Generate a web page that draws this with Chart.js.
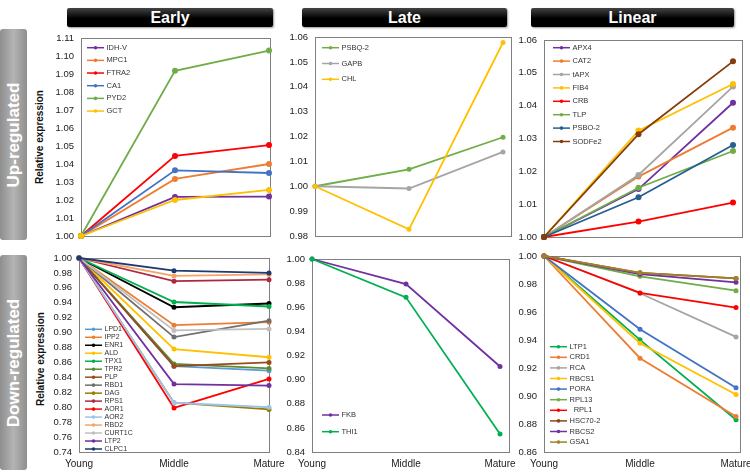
<!DOCTYPE html>
<html>
<head>
<meta charset="utf-8">
<script src="https://cdn.jsdelivr.net/npm/chart.js@4.4.1/dist/chart.umd.min.js"></script>
<style>
  body { margin: 0; background: #fff; width: 750px; height: 472px; position: relative; overflow: hidden;
         font-family: "Liberation Sans", Arial, sans-serif; }
  .hdr { position: absolute; top: 8px; height: 19px; line-height: 19px; text-align: center;
         background: linear-gradient(#444, #000 55%); color: #fff; font-weight: bold; font-size: 16px;
         border-radius: 2px; box-shadow: 1px 1px 2px #999; }
  .side { position: absolute; left: 0; width: 27px; border-radius: 3px;
          background: linear-gradient(to right, #8e8e8e, #b4b4b4 50%, #8e8e8e); }
  .side span, .ylab span { position: absolute; left: 50%; top: 50%; white-space: nowrap;
          transform: translate(-50%, -50%) rotate(-90deg); }
  .side span { color: #fff; font-weight: bold; font-size: 17px; }
  .ylab { position: absolute; width: 0; height: 0; }
  .ylab span { font-weight: bold; font-size: 10px; color: #111; }
  canvas { position: absolute; }
</style>
</head>
<body>
<div class="hdr" style="left:67px;width:206px">Early</div>
<div class="hdr" style="left:302px;width:205px">Late</div>
<div class="hdr" style="left:531px;width:203px">Linear</div>
<div class="side" style="top:29px;height:211px"><span>Up-regulated</span></div>
<div class="side" style="top:255px;height:215px"><span>Down-regulated</span></div>
<div class="ylab" style="left:39px;top:137px"><span>Relative expression</span></div>
<div class="ylab" style="left:40px;top:359px"><span>Relative expression</span></div>

<script>
Chart.defaults.font.family = '"Liberation Sans", Arial, sans-serif';

const stages = ['Young', 'Middle', 'Mature'];

// Early, up-regulated
const earlyUpGenes = ['IDH-V', 'MPC1', 'FTRA2', 'CA1', 'PYD2', 'GCT'];
const earlyUpColors = ['#7030A0', '#ED7D31', '#FF0000', '#4472C4', '#70AD47', '#FFC000'];
const earlyUpValues = [
  [1, 1.0217, 1.0219],
  [1, 1.0317, 1.0400],
  [1, 1.0445, 1.0505],
  [1, 1.0365, 1.0350],
  [1, 1.0918, 1.1030],
  [1, 1.0200, 1.0256]
];
const earlyUpTicks = [1.00, 1.01, 1.02, 1.03, 1.04, 1.05, 1.06, 1.07, 1.08, 1.09, 1.10, 1.11];

// Late, up-regulated
const lateUpGenes = ['PSBQ-2', 'GAPB', 'CHL'];
const lateUpColors = ['#70AD47', '#A5A5A5', '#FFC000'];
const lateUpValues = [
  [1, 1.0068, 1.0197],
  [1, 0.9991, 1.0138],
  [1, 0.9827, 1.0578]
];
const lateUpTicks = [0.98, 0.99, 1.00, 1.01, 1.02, 1.03, 1.04, 1.05, 1.06];

// Linear, up-regulated
const linearUpGenes = ['APX4', 'CAT2', 'tAPX', 'FIB4', 'CRB', 'TLP', 'PSBO-2', 'SODFe2'];
const linearUpColors = ['#7030A0', '#ED7D31', '#A5A5A5', '#FFC000', '#FF0000', '#70AD47', '#255E91', '#843C0C'];
const linearUpValues = [
  [1, 1.0146, 1.0409],
  [1, 1.0184, 1.0333],
  [1, 1.0189, 1.0458],
  [1, 1.0324, 1.0466],
  [1, 1.0047, 1.0105],
  [1, 1.0150, 1.0262],
  [1, 1.0121, 1.0280],
  [1, 1.0313, 1.0535]
];
const linearUpTicks = [1.00, 1.01, 1.02, 1.03, 1.04, 1.05, 1.06];

// Early, down-regulated
const earlyDownGenes = ['LPD1', 'IPP2', 'ENR1', 'ALD', 'TPX1', 'TPR2', 'PLP', 'RBD1',
  'DAG', 'RPS1', 'AOR1', 'AOR2', 'RBD2', 'CURT1C', 'LTP2', 'CLPC1'];
const earlyDownColors = ['#5B9BD5', '#ED7D31', '#000000', '#FFC000', '#00B050', '#5A8A32', '#9C4A1A', '#6F6F6F',
  '#9C7A00', '#B0283F', '#FF0000', '#9DC3E6', '#F4A46A', '#BFBFBF', '#7030A0', '#1F3A70'];
const earlyDownValues = [
  [1, 0.855, 0.849],
  [1, 0.910, 0.914],
  [1, 0.934, 0.939],
  [1, 0.878, 0.867],
  [1, 0.941, 0.935],
  [1, 0.858, 0.852],
  [1, 0.855, 0.860],
  [1, 0.894, 0.916],
  [1, 0.806, 0.797],
  [1, 0.969, 0.971],
  [1, 0.799, 0.838],
  [1, 0.806, 0.800],
  [1, 0.976, 0.978],
  [1, 0.903, 0.905],
  [1, 0.831, 0.829],
  [1, 0.983, 0.980]
];
const earlyDownTicks = [0.74, 0.76, 0.78, 0.80, 0.82, 0.84, 0.86, 0.88, 0.90, 0.92, 0.94, 0.96, 0.98, 1.00];

// Late, down-regulated
const lateDownGenes = ['FKB', 'THI1'];
const lateDownColors = ['#7030A0', '#00B050'];
const lateDownValues = [
  [1, 0.9792, 0.9109],
  [1, 0.9682, 0.8550]
];
const lateDownTicks = [0.84, 0.86, 0.88, 0.90, 0.92, 0.94, 0.96, 0.98, 1.00];

// Linear, down-regulated
const linearDownGenes = ['LTP1', 'CRD1', 'RCA', 'RBCS1', 'PORA', 'RPL13', '  RPL1', 'HSC70-2', 'RBCS2', 'GSA1'];
const linearDownColors = ['#00B050', '#ED7D31', '#A5A5A5', '#FFC000', '#4472C4', '#70AD47', '#FF0000', '#8B4513', '#7030A0', '#A0822A'];
const linearDownValues = [
  [1, 0.9401, 0.8830],
  [1, 0.9270, 0.8854],
  [1, 0.9734, 0.9422],
  [1, 0.9377, 0.9011],
  [1, 0.9477, 0.9059],
  [1, 0.9855, 0.9752],
  [1, 0.9736, 0.9632],
  [1, 0.9880, 0.9840],
  [1, 0.9870, 0.9812],
  [1, 0.9880, 0.9840]
];
const linearDownTicks = [0.86, 0.88, 0.90, 0.92, 0.94, 0.96, 0.98, 1.00];

// frame round the plot area (slightly wider than the data on some panels)
const boxPlugin = {
  id: 'box',
  beforeDatasetsDraw(chart, args, o) {
    const a = chart.chartArea, ctx = chart.ctx;
    ctx.save();
    ctx.strokeStyle = '#808080';
    ctx.lineWidth = 1;
    ctx.strokeRect(Math.round(a.left) + 0.5, Math.round(a.top) + 0.5,
      Math.round(a.right - a.left + o.extra), Math.round(a.bottom - a.top));
    ctx.restore();
  }
};

// legend drawn inside the plot, in the original gene order
const legendPlugin = {
  id: 'inLegend',
  afterDatasetsDraw(chart, args, o) {
    const ctx = chart.ctx;
    const items = chart.data.datasets.slice().reverse();
    ctx.save();
    ctx.font = o.font + 'px "Liberation Sans", Arial, sans-serif';
    ctx.textBaseline = 'middle';
    items.forEach((ds, i) => {
      const y = o.y + i * o.step;
      ctx.strokeStyle = ds.borderColor;
      ctx.lineWidth = 1.5;
      ctx.beginPath(); ctx.moveTo(o.x, y); ctx.lineTo(o.x + o.len, y); ctx.stroke();
      ctx.fillStyle = ds.borderColor;
      ctx.beginPath(); ctx.arc(o.x + o.len / 2, y, 1.8, 0, Math.PI * 2); ctx.fill();
      ctx.fillStyle = '#333';
      ctx.fillText(ds.label, o.x + o.len + 2.5, y);
    });
    ctx.restore();
  }
};

function makePanel(cfg) {
  const yW = 48, padT = 14, padR = 28;
  const botH = cfg.xLabels ? 20 : 14;
  const cl = cfg.l - yW, ct = cfg.t - padT;
  const w = cfg.r - cfg.l + yW + padR, h = cfg.b - cfg.t + padT + botH;
  const cv = document.createElement('canvas');
  cv.width = w; cv.height = h;
  cv.style.left = cl + 'px'; cv.style.top = ct + 'px';
  cv.style.width = w + 'px'; cv.style.height = h + 'px';
  document.body.appendChild(cv);

  new Chart(cv, {
    type: 'line',
    data: {
      labels: stages,
      // first gene drawn last, so it sits on top
      datasets: cfg.genes.map((g, i) => ({
        label: g,
        data: cfg.values[i],
        borderColor: cfg.colors[i],
        backgroundColor: cfg.colors[i],
        borderWidth: 1.8,
        pointRadius: cfg.pr,
        pointBorderWidth: 0,
        tension: 0,
        clip: false
      })).reverse()
    },
    options: {
      responsive: false,
      animation: false,
      devicePixelRatio: 1,
      layout: { padding: { top: padT, right: padR, left: 0, bottom: 0 } },
      plugins: {
        legend: { display: false },
        tooltip: { enabled: false },
        box: { extra: cfg.boxR - cfg.r },
        inLegend: { x: cfg.lg.x - cl, y: cfg.lg.y - ct, step: cfg.lg.step, font: cfg.lg.font, len: 17 }
      },
      scales: {
        x: {
          offset: false,
          grid: { display: false, drawTicks: false },
          border: { display: false },
          ticks: { display: !!cfg.xLabels, padding: 6, color: '#222', font: { size: 10 }, maxRotation: 0, autoSkip: false },
          afterFit: s => { s.height = botH; }
        },
        y: {
          min: cfg.ticks[0],
          max: cfg.ticks[cfg.ticks.length - 1],
          grid: { display: false, drawTicks: false },
          border: { display: false },
          ticks: { padding: 7, color: '#222', font: { size: 9.5 }, callback: v => Number(v).toFixed(2) },
          afterBuildTicks: s => { s.ticks = cfg.ticks.map(v => ({ value: v })); },
          afterFit: s => { s.width = yW; }
        }
      }
    },
    plugins: [boxPlugin, legendPlugin]
  });
}

makePanel({ l: 81, t: 38, r: 269, b: 236, boxR: 270, pr: 3,
  genes: earlyUpGenes, colors: earlyUpColors, values: earlyUpValues, ticks: earlyUpTicks,
  lg: { x: 87, y: 47.7, step: 12.67, font: 7.5 } });
makePanel({ l: 315, t: 37, r: 503, b: 236, boxR: 511, pr: 2.5,
  genes: lateUpGenes, colors: lateUpColors, values: lateUpValues, ticks: lateUpTicks,
  lg: { x: 322, y: 47.7, step: 15.8, font: 7.5 } });
makePanel({ l: 544, t: 40, r: 733, b: 237, boxR: 742, pr: 3,
  genes: linearUpGenes, colors: linearUpColors, values: linearUpValues, ticks: linearUpTicks,
  lg: { x: 553, y: 47.7, step: 13.4, font: 7.5 } });
makePanel({ l: 79, t: 258, r: 269, b: 452, boxR: 269, pr: 2.5, xLabels: true,
  genes: earlyDownGenes, colors: earlyDownColors, values: earlyDownValues, ticks: earlyDownTicks,
  lg: { x: 85, y: 329.3, step: 7.98, font: 7 } });
makePanel({ l: 312, t: 259, r: 500, b: 452, boxR: 509, pr: 2.5, xLabels: true,
  genes: lateDownGenes, colors: lateDownColors, values: lateDownValues, ticks: lateDownTicks,
  lg: { x: 322, y: 415, step: 16.7, font: 7.5 } });
makePanel({ l: 544, t: 256, r: 736, b: 452, boxR: 740, pr: 2.5, xLabels: true,
  genes: linearDownGenes, colors: linearDownColors, values: linearDownValues, ticks: linearDownTicks,
  lg: { x: 550, y: 346.7, step: 10.6, font: 7.5 } });
</script>
</body>
</html>
